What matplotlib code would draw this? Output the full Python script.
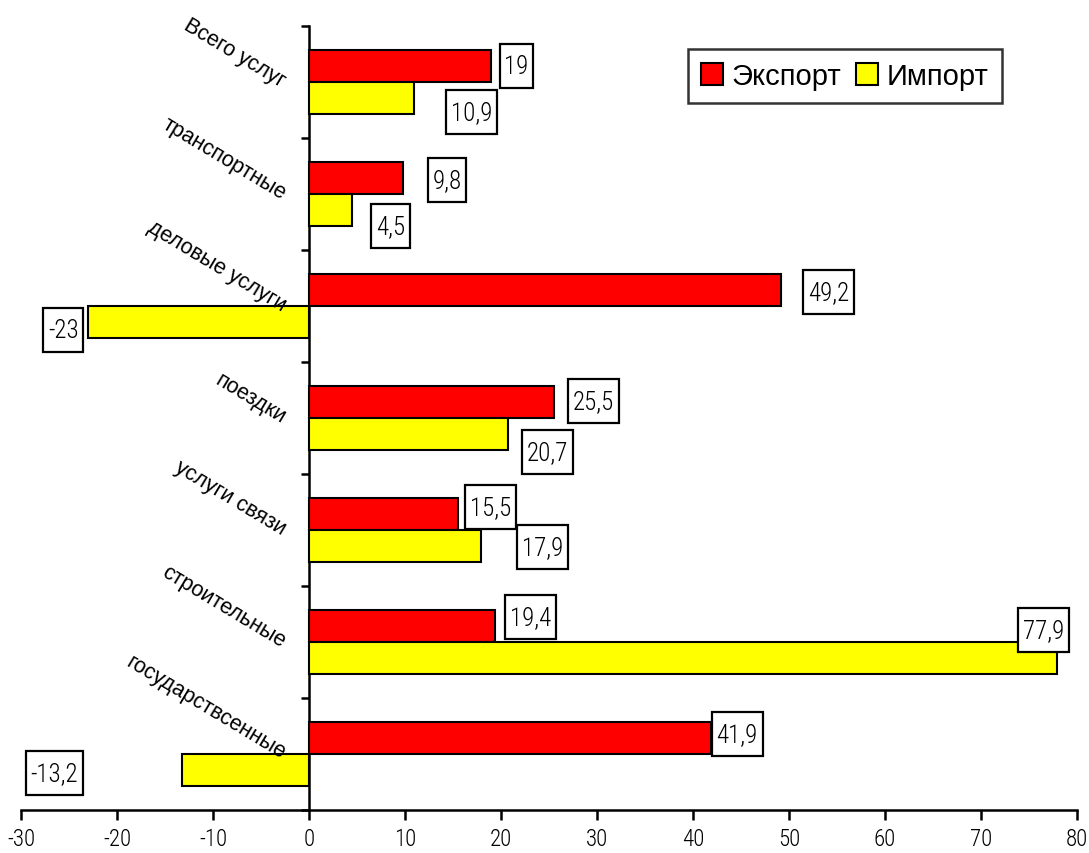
import matplotlib
matplotlib.use("Agg")
import matplotlib.pyplot as plt
from matplotlib.path import Path
import numpy as np

categories = ["Всего услуг", "транспортные", "деловые услуги", "поездки",
              "услуги связи", "строительные", "государствсенные"]
export_vals = [19, 9.8, 49.2, 25.5, 15.5, 19.4, 41.9]
import_vals = [10.9, 4.5, -23, 20.7, 17.9, 77.9, -13.2]
export_labels = ["19", "9,8", "49,2", "25,5", "15,5", "19,4", "41,9"]
import_labels = ["10,9", "4,5", "-23", "20,7", "17,9", "77,9", "-13,2"]
x_ticks = [-30, -20, -10, 0, 10, 20, 30, 40, 50, 60, 70, 80]

# label box offsets from the end of each bar, in pixels (dx, dy)
export_offsets = [(25, 0), (44, -2), (47, -2), (40, 1), (33, 7), (35, 9), (26, 4)]
import_offsets = [(58, -14), (38, -16), (-25, -8), (40, -18), (62, -1), (-13, 28), (-128, -3)]

narrow = ["Roboto Condensed", "Liberation Sans", "DejaVu Sans"]
regular = ["Liberation Sans", "DejaVu Sans"]


def tall_box(x0, y0, width, height, mutation_size):
    """Rectangle with small side padding and larger top/bottom padding."""
    px = 0.19 * mutation_size
    py = 0.40 * mutation_size
    x1, y1 = x0 - px, y0 - py
    x2, y2 = x0 + width + px, y0 + height + py
    return Path([(x1, y1), (x2, y1), (x2, y2), (x1, y2), (x1, y1)],
                [Path.MOVETO, Path.LINETO, Path.LINETO, Path.LINETO, Path.CLOSEPOLY])


fig = plt.figure(figsize=(10.89, 8.54), dpi=100)
ax = fig.add_axes([21 / 1089, 1 - 811 / 854, (1077 - 21) / 1089, (811 - 27) / 854])

y = np.arange(len(categories))
h = 0.285
ax.barh(y - h / 2, export_vals, height=h, color="#FF0000", edgecolor="black",
        linewidth=1.5, label="Экспорт", zorder=3)
ax.barh(y + h / 2, import_vals, height=h, color="#FFFF00", edgecolor="black",
        linewidth=1.5, label="Импорт", zorder=3)

ax.set_xlim(-30, 80)
ax.set_ylim(len(categories) - 0.5, -0.5)

for spine in ["top", "right"]:
    ax.spines[spine].set_visible(False)
ax.spines["left"].set_position(("data", 0))
ax.spines["left"].set_linewidth(1.8)
ax.spines["bottom"].set_linewidth(1.8)

ax.set_xticks(x_ticks)
ax.set_xticklabels([str(v) for v in x_ticks], fontfamily=narrow, fontsize=16.5,
                   fontweight="light")
ax.tick_params(axis="x", direction="out", length=7, width=1.8, pad=5)
ax.set_yticks(np.arange(-0.5, len(categories) + 0.5, 1))
ax.set_yticklabels([])
ax.tick_params(axis="y", direction="out", length=6, width=1.8)

# rotated category labels next to the vertical axis
for i, name in enumerate(categories):
    ax.annotate(name, xy=(0, i), xycoords="data", xytext=(-25, 0),
                textcoords="offset pixels", ha="right", va="center",
                rotation=-31, rotation_mode="anchor",
                fontfamily=regular, fontsize=15.5)

box = dict(boxstyle=tall_box, facecolor="white", edgecolor="black", linewidth=1.6)
for i, (v, lab, off) in enumerate(zip(export_vals, export_labels, export_offsets)):
    ax.annotate(lab, xy=(v, i - h / 2), xytext=off, textcoords="offset pixels",
                ha="center", va="center", fontfamily=narrow, fontsize=18,
                fontweight="light", bbox=box, zorder=5)
for i, (v, lab, off) in enumerate(zip(import_vals, import_labels, import_offsets)):
    ax.annotate(lab, xy=(v, i + h / 2), xytext=off, textcoords="offset pixels",
                ha="center", va="center", fontfamily=narrow, fontsize=18,
                fontweight="light", bbox=box, zorder=5)

leg = ax.legend(loc="upper left", bbox_to_anchor=((688 - 21) / 1056, 1 - (50 - 27) / 784),
                ncol=2, frameon=True, fancybox=False, edgecolor="black",
                prop={"family": regular, "size": 21}, handlelength=0.75, handleheight=0.75,
                handletextpad=0.3, columnspacing=0.5, borderpad=0.45, borderaxespad=0)
leg.get_frame().set_linewidth(1.8)
for patch in leg.get_patches():
    patch.set_linewidth(1.5)

fig.savefig("out.png", dpi=100, facecolor="white")
